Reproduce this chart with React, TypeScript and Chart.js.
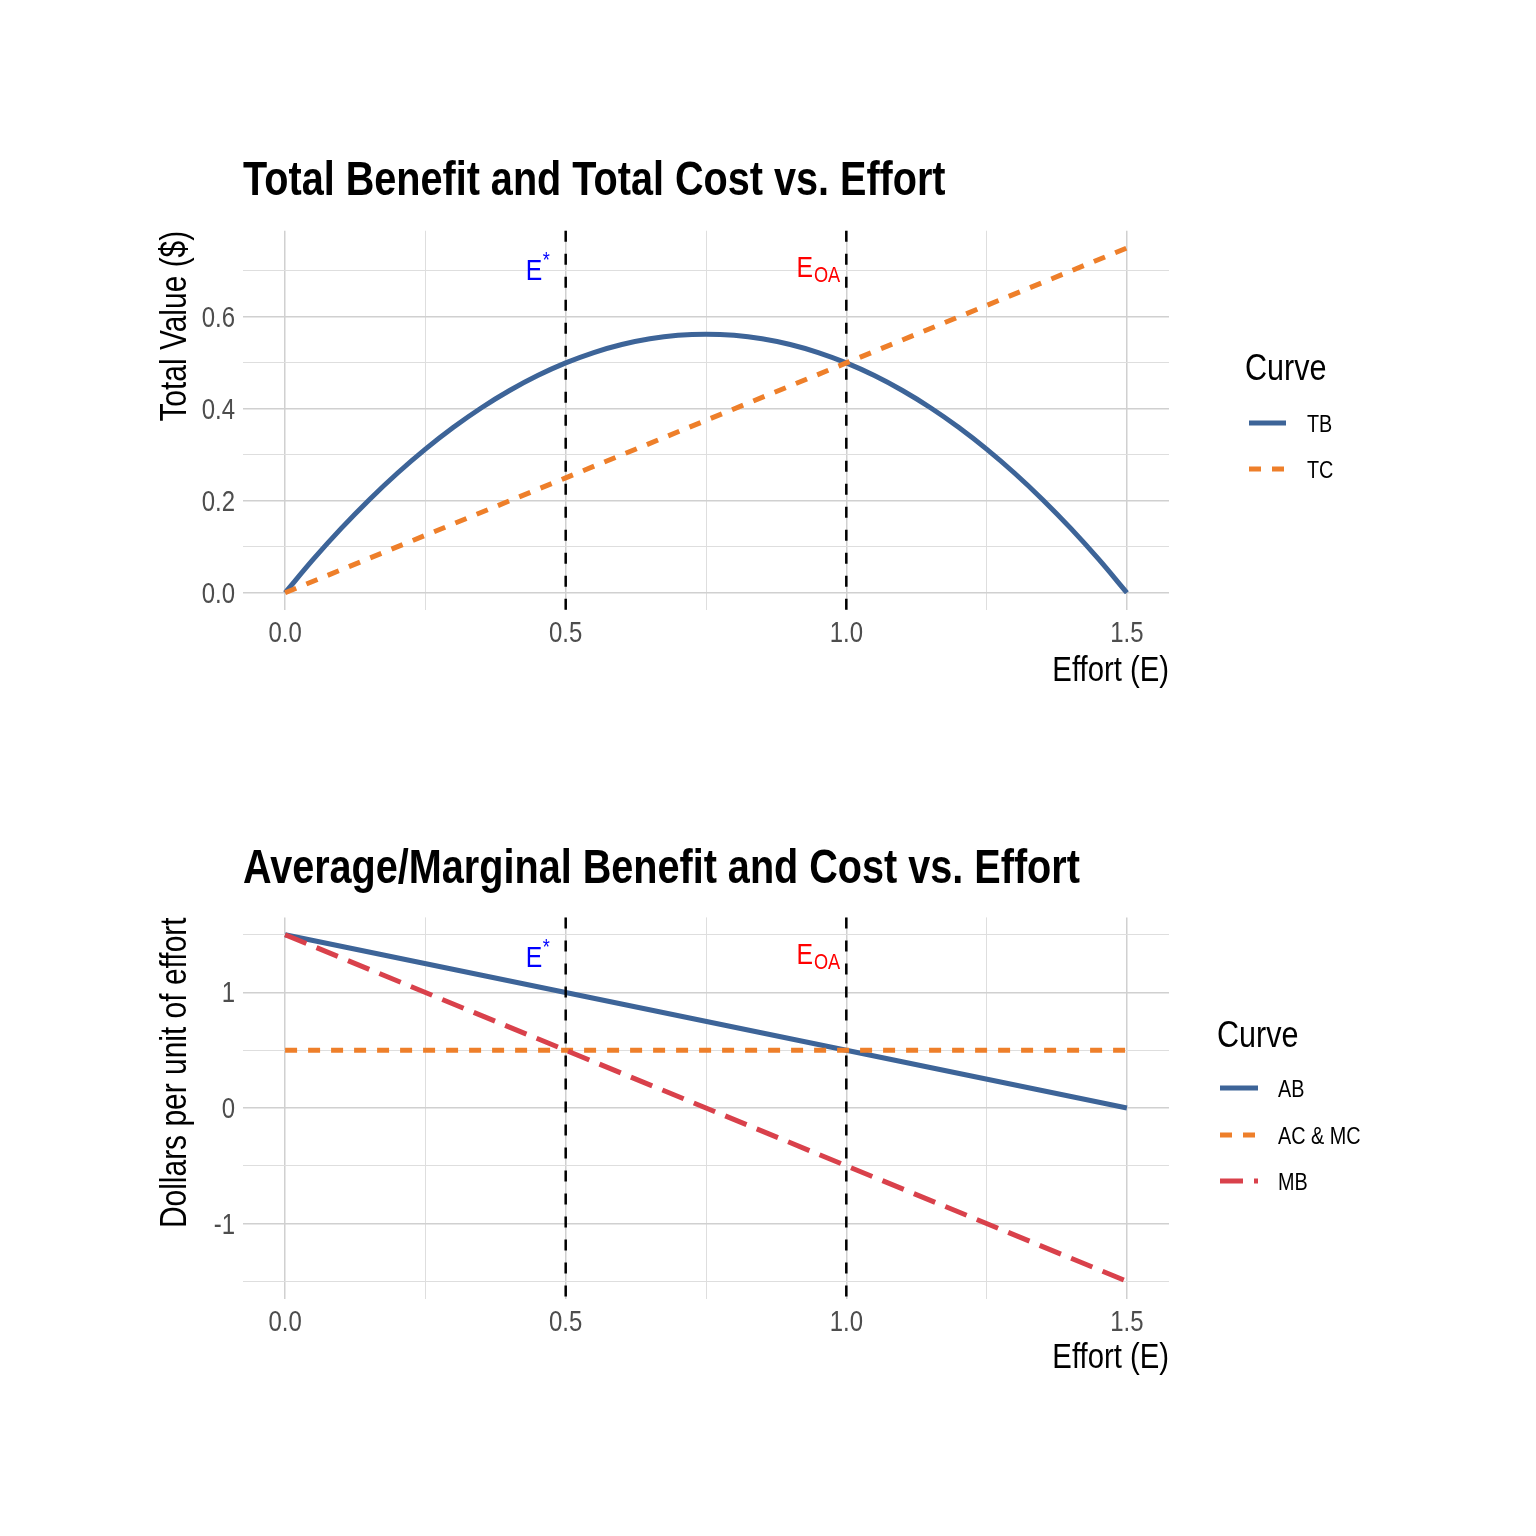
import React, { useEffect, useRef } from "react";
import { Chart, registerables } from "chart.js";

Chart.register(...registerables);

const FONT = '"Liberation Sans Narrow", "Arial Narrow", "Liberation Sans", Arial, sans-serif';
const NARROW = 0.825; // horizontal condensing to mimic Arial Narrow

// ---------- data ----------
const EFFORT_TB = [
  0, 0.05, 0.1, 0.15, 0.2, 0.25, 0.3, 0.35, 0.4, 0.45, 0.5, 0.55, 0.6, 0.65, 0.7, 0.75,
  0.8, 0.85, 0.9, 0.95, 1.0, 1.05, 1.1, 1.15, 1.2, 1.25, 1.3, 1.35, 1.4, 1.45, 1.5,
];
const TB = [
  0, 0.0725, 0.14, 0.2025, 0.26, 0.3125, 0.36, 0.4025, 0.44, 0.4725, 0.5, 0.5225, 0.54, 0.5525, 0.56, 0.5625,
  0.56, 0.5525, 0.54, 0.5225, 0.5, 0.4725, 0.44, 0.4025, 0.36, 0.3125, 0.26, 0.2025, 0.14, 0.0725, 0,
];
const EFFORT_LINE = [0, 0.5, 1.0, 1.5];
const TC = [0, 0.25, 0.5, 0.75];
const AB = [1.5, 1.0, 0.5, 0.0];
const AC_MC = [0.5, 0.5, 0.5, 0.5];
const MB = [1.5, 0.5, -0.5, -1.5];

const X_MAJOR = [0, 0.5, 1.0, 1.5];
const X_MINOR = [0.25, 0.75, 1.25];
const X_LABELS = ["0.0", "0.5", "1.0", "1.5"];
const TOP_Y_MAJOR = [0, 0.2, 0.4, 0.6];
const TOP_Y_MINOR = [0.1, 0.3, 0.5, 0.7];
const TOP_Y_LABELS = ["0.0", "0.2", "0.4", "0.6"];
const BOT_Y_MAJOR = [-1, 0, 1];
const BOT_Y_MINOR = [-1.5, -0.5, 0.5, 1.5];
const BOT_Y_LABELS = ["-1", "0", "1"];

const E_STAR = 0.5;
const E_OA = 1.0;
const LABEL_X_STAR = 0.45;
const LABEL_X_OA = 0.95;
const TOP_LABEL_Y = 0.7;
const BOT_LABEL_Y = 1.3;

// ---------- styles ----------
const BLUE = "#3D6498";
const ORANGE = "#EE7F2A";
const RED = "#D9414B";
const DASH_TC = [12, 11];
const DASH_MB = [23, 11];
const DASH_V = [11, 12];
const LINE_W = 5;

type LegendItem = { label: string; color: string; dash: number[] };

type Panel = {
  offsetY: number;
  height: number;
  area: { left: number; right: number; top: number; bottom: number };
  title: string;
  titleBaseline: number;
  yTitle: string;
  yTitleX: number;
  xTitle: string;
  xTitleBaseline: number;
  yMin: number;
  yMax: number;
  yMajor: number[];
  yMinor: number[];
  yLabels: string[];
  labelY: number;
  legend: { titleX: number; titleBaseline: number; keyX1: number; keyX2: number; labelX: number; rows: number[]; items: LegendItem[] };
  datasets: any[];
};

const toPts = (xs: number[], ys: number[]) => xs.map((x, i) => ({ x, y: ys[i] }));

const PANELS: Panel[] = [
  {
    offsetY: 0,
    height: 768,
    area: { left: 243, right: 1169, top: 230.75, bottom: 610 },
    title: "Total Benefit and Total Cost vs. Effort",
    titleBaseline: 195,
    yTitle: "Total Value ($)",
    yTitleX: 186,
    xTitle: "Effort (E)",
    xTitleBaseline: 681,
    yMin: -0.0375,
    yMax: 0.7875,
    yMajor: TOP_Y_MAJOR,
    yMinor: TOP_Y_MINOR,
    yLabels: TOP_Y_LABELS,
    labelY: TOP_LABEL_Y,
    legend: {
      titleX: 1245,
      titleBaseline: 380,
      keyX1: 1249,
      keyX2: 1286,
      labelX: 1307,
      rows: [423, 469],
      items: [
        { label: "TB", color: BLUE, dash: [] },
        { label: "TC", color: ORANGE, dash: DASH_TC },
      ],
    },
    datasets: [
      { label: "TB", data: toPts(EFFORT_TB, TB), borderColor: BLUE, borderWidth: LINE_W, pointRadius: 0, cubicInterpolationMode: "monotone", order: 1 },
      { label: "TC", data: toPts(EFFORT_LINE, TC), borderColor: ORANGE, borderWidth: LINE_W, borderDash: DASH_TC, pointRadius: 0, order: 0 },
    ],
  },
  {
    offsetY: 768,
    height: 768,
    area: { left: 243, right: 1169, top: 917.4, bottom: 1298.6 },
    title: "Average/Marginal Benefit and Cost vs. Effort",
    titleBaseline: 883,
    yTitle: "Dollars per unit of effort",
    yTitleX: 186,
    xTitle: "Effort (E)",
    xTitleBaseline: 1368,
    yMin: -1.65,
    yMax: 1.65,
    yMajor: BOT_Y_MAJOR,
    yMinor: BOT_Y_MINOR,
    yLabels: BOT_Y_LABELS,
    labelY: BOT_LABEL_Y,
    legend: {
      titleX: 1217,
      titleBaseline: 1047,
      keyX1: 1220,
      keyX2: 1258,
      labelX: 1278,
      rows: [1088, 1135, 1181],
      items: [
        { label: "AB", color: BLUE, dash: [] },
        { label: "AC & MC", color: ORANGE, dash: DASH_TC },
        { label: "MB", color: RED, dash: DASH_MB },
      ],
    },
    datasets: [
      { label: "AB", data: toPts(EFFORT_LINE, AB), borderColor: BLUE, borderWidth: LINE_W, pointRadius: 0, order: 2 },
      { label: "AC & MC", data: toPts(EFFORT_LINE, AC_MC), borderColor: ORANGE, borderWidth: LINE_W, borderDash: DASH_TC, pointRadius: 0, order: 1 },
      { label: "MB", data: toPts(EFFORT_LINE, MB), borderColor: RED, borderWidth: LINE_W, borderDash: DASH_MB, pointRadius: 0, order: 0 },
    ],
  },
];

const near = (a: number, b: number) => Math.abs(a - b) < 1e-9;
const isIn = (v: number, arr: number[]) => arr.some((m) => near(m, v));

const MAJOR_COLOR = "#d0d0d0";
const MINOR_COLOR = "#dedede";

// condensed text helper
function text(
  ctx: CanvasRenderingContext2D,
  s: string,
  x: number,
  y: number,
  font: string,
  color: string,
  align: CanvasTextAlign = "left",
  baseline: CanvasTextBaseline = "alphabetic",
  rotate = 0
) {
  ctx.save();
  ctx.translate(x, y);
  if (rotate) ctx.rotate(rotate);
  ctx.scale(NARROW, 1);
  ctx.font = font;
  ctx.fillStyle = color;
  ctx.textAlign = align;
  ctx.textBaseline = baseline;
  ctx.fillText(s, 0, 0);
  ctx.restore();
}
function width(ctx: CanvasRenderingContext2D, s: string, font: string) {
  ctx.save();
  ctx.font = font;
  const w = ctx.measureText(s).width * NARROW;
  ctx.restore();
  return w;
}

function makePlugin(p: Panel) {
  const oy = p.offsetY;
  return {
    id: "custom" + oy,
    afterDatasetsDraw(chart: any) {
      const { ctx, chartArea, scales } = chart;
      ctx.save();
      ctx.strokeStyle = "#000";
      ctx.lineWidth = 2.5;
      ctx.setLineDash(DASH_V);
      for (const v of [E_STAR, E_OA]) {
        const x = scales.x.getPixelForValue(v);
        ctx.beginPath();
        ctx.moveTo(x, chartArea.top);
        ctx.lineTo(x, chartArea.bottom);
        ctx.stroke();
      }
      ctx.setLineDash([]);
      ctx.restore();
      const py = scales.y.getPixelForValue(p.labelY);
      const fBig = `30px ${FONT}`;
      const fSmall = `22px ${FONT}`;
      // E*
      {
        const px = scales.x.getPixelForValue(LABEL_X_STAR);
        const wE = width(ctx, "E", fBig);
        const wS = width(ctx, "*", fSmall);
        const sx = px - (wE + wS) / 2;
        text(ctx, "E", sx, py + 9, fBig, "#0000FF");
        text(ctx, "*", sx + wE + 0.5, py - 4, fSmall, "#0000FF");
      }
      // E_OA
      {
        const px = scales.x.getPixelForValue(LABEL_X_OA);
        const wE = width(ctx, "E", fBig);
        const wS = width(ctx, "OA", fSmall);
        const sx = px - (wE + wS + 1) / 2;
        text(ctx, "E", sx, py + 6, fBig, "#FF0000");
        text(ctx, "OA", sx + wE + 1, py + 11, fSmall, "#FF0000");
      }
    },
    afterDraw(chart: any) {
      const { ctx, chartArea, scales } = chart;
      const tickFont = `29px ${FONT}`;
      const tickColor = "#4d4d4d";
      // x tick labels
      X_MAJOR.forEach((v, i) => {
        const x = scales.x.getPixelForValue(v);
        text(ctx, X_LABELS[i], x, chartArea.bottom + 32, tickFont, tickColor, "center");
      });
      // y tick labels
      p.yMajor.forEach((v, i) => {
        const y = scales.y.getPixelForValue(v);
        text(ctx, p.yLabels[i], chartArea.left - 8, y + 10, tickFont, tickColor, "right");
      });
      // title
      text(ctx, p.title, chartArea.left, p.titleBaseline - oy, `bold 48px ${FONT}`, "#000");
      // x title
      text(ctx, p.xTitle, chartArea.right, p.xTitleBaseline - oy, `35.5px ${FONT}`, "#000", "right");
      // y title
      text(ctx, p.yTitle, p.yTitleX, chartArea.top, `36.3px ${FONT}`, "#000", "right", "alphabetic", -Math.PI / 2);
      // legend
      const L = p.legend;
      text(ctx, "Curve", L.titleX, L.titleBaseline - oy, `37px ${FONT}`, "#000");
      L.items.forEach((it, i) => {
        const y = L.rows[i] - oy;
        ctx.save();
        ctx.strokeStyle = it.color;
        ctx.lineWidth = LINE_W;
        ctx.setLineDash(it.dash);
        ctx.beginPath();
        ctx.moveTo(L.keyX1, y);
        ctx.lineTo(L.keyX2, y);
        ctx.stroke();
        ctx.restore();
        text(ctx, it.label, L.labelX, y + 8.5, `24px ${FONT}`, "#000");
      });
    },
  };
}

function PanelChart({ p }: { p: Panel }) {
  const ref = useRef<HTMLCanvasElement | null>(null);
  useEffect(() => {
    if (!ref.current) return;
    const W = 1536;
    const yAxisW = 100;
    const xAxisH = 60;
    const a = p.area;
    const top = a.top - p.offsetY;
    const bottom = a.bottom - p.offsetY;
    const chart = new Chart(ref.current, {
      type: "line",
      data: { datasets: p.datasets },
      plugins: [makePlugin(p)],
      options: {
        animation: false,
        responsive: false,
        devicePixelRatio: 1,
        events: [],
        layout: {
          padding: {
            left: a.left - yAxisW,
            right: W - a.right,
            top: top,
            bottom: p.height - bottom - xAxisH,
          },
        },
        plugins: { legend: { display: false }, title: { display: false }, tooltip: { enabled: false } },
        scales: {
          x: {
            type: "linear",
            min: -0.075,
            max: 1.575,
            afterFit: (s: any) => {
              s.height = xAxisH;
            },
            afterBuildTicks: (s: any) => {
              s.ticks = [...X_MAJOR, ...X_MINOR].sort((m, n) => m - n).map((v) => ({ value: v }));
            },
            ticks: { display: false, autoSkip: false, maxRotation: 0 },
            grid: {
              drawTicks: false,
              color: (c: any) => (c.tick && isIn(c.tick.value, X_MAJOR) ? MAJOR_COLOR : MINOR_COLOR),
              lineWidth: (c: any) => (c.tick && isIn(c.tick.value, X_MAJOR) ? 1.5 : 1),
            },
            border: { display: false },
          },
          y: {
            type: "linear",
            min: p.yMin,
            max: p.yMax,
            afterFit: (s: any) => {
              s.width = yAxisW;
            },
            afterBuildTicks: (s: any) => {
              s.ticks = [...p.yMajor, ...p.yMinor].sort((m, n) => m - n).map((v) => ({ value: v }));
            },
            ticks: { display: false, autoSkip: false },
            grid: {
              drawTicks: false,
              color: (c: any) => (c.tick && isIn(c.tick.value, p.yMajor) ? MAJOR_COLOR : MINOR_COLOR),
              lineWidth: (c: any) => (c.tick && isIn(c.tick.value, p.yMajor) ? 1.5 : 1),
            },
            border: { display: false },
          },
        },
      } as any,
    });
    return () => chart.destroy();
  }, [p]);
  return (
    <canvas
      ref={ref}
      width={1536}
      height={p.height}
      style={{ position: "absolute", left: 0, top: p.offsetY, width: 1536, height: p.height, display: "block" }}
    />
  );
}

export default function App() {
  return (
    <div style={{ position: "absolute", left: 0, top: 0, width: 1536, height: 1536, background: "#ffffff" }}>
      {PANELS.map((p) => (
        <PanelChart key={p.offsetY} p={p} />
      ))}
    </div>
  );
}
